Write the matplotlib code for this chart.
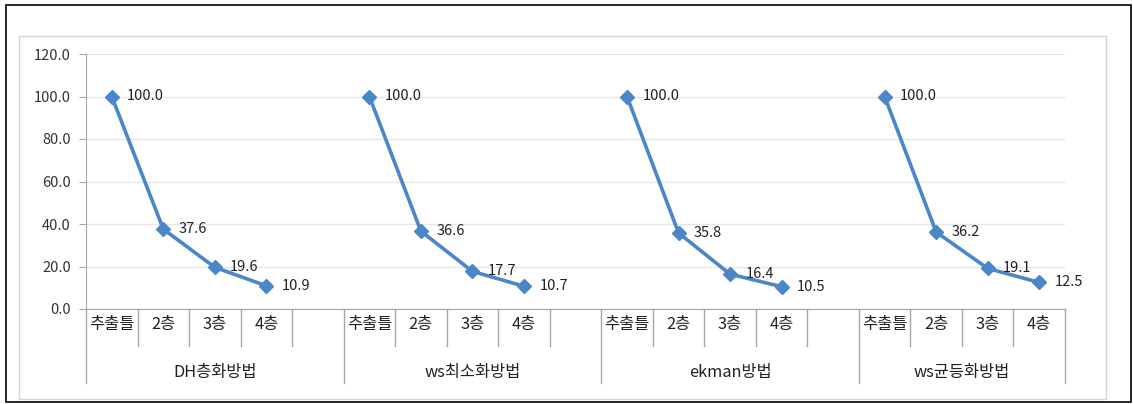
import matplotlib
matplotlib.use("Agg")
import matplotlib.pyplot as plt
from matplotlib.patches import Rectangle
import numpy as np

plt.rcParams['font.family'] = ['Noto Sans CJK KR', 'DejaVu Sans']

methods = ["DH층화방법", "ws최소화방법", "ekman방법", "ws균등화방법"]
stages = ["추출틀", "2층", "3층", "4층"]
dh_values = [100.0, 37.6, 19.6, 10.9]
wsmin_values = [100.0, 36.6, 17.7, 10.7]
ekman_values = [100.0, 35.8, 16.4, 10.5]
wseq_values = [100.0, 36.2, 19.1, 12.5]
y_ticks = [0, 20, 40, 60, 80, 100, 120]

series = [dh_values, wsmin_values, ekman_values, wseq_values]

W, H = 1133, 404
fig = plt.figure(figsize=(W / 100, H / 100), dpi=100)

def px(x0, y0, x1, y1):
    """Figure-fraction rectangle from pixel edges (top-left origin)."""
    return [x0 / W, 1 - y1 / H, (x1 - x0) / W, (y1 - y0) / H]

# outer frame and chart-area frame
fig.patches.append(Rectangle((6 / W, 1 - 402 / H), 1125 / W, 397 / H,
                             transform=fig.transFigure, fill=False,
                             edgecolor="black", linewidth=1.2))
fig.patches.append(Rectangle((19 / W, 1 - 399 / H), 1087 / W, 363 / H,
                             transform=fig.transFigure, fill=False,
                             edgecolor="#D4D4D4", linewidth=1.0))

ax = fig.add_axes(px(86, 54, 1065, 309))

slots = [5, 5, 5, 4]
starts = np.cumsum([0] + slots[:-1])
total = sum(slots)

num_size = 10.5
kor_size = 11.8

line_color = "#4A86C8"
for g, vals in enumerate(series):
    xs = starts[g] + np.arange(len(vals)) + 0.5
    ax.plot(xs, vals, color=line_color, linewidth=2.6, marker="D",
            markersize=7.5, markeredgecolor=line_color, zorder=3)
    for x, v in zip(xs, vals):
        ax.annotate(f"{v:.1f}", (x, v), xytext=(11, 0), textcoords="offset points",
                    ha="left", va="center", fontsize=num_size, color="#222222", zorder=4)

ax.set_xlim(0, total)
ax.set_ylim(0, 120)
ax.set_yticks(y_ticks)
ax.set_yticklabels([f"{t:.1f}" for t in y_ticks], fontsize=num_size, color="#333333")
ax.tick_params(axis="y", length=5, color="#A6A6A6", pad=6)
ax.set_xticks([])
ax.grid(axis="y", color="#E6E6E6", linewidth=1.0, zorder=0)
ax.set_axisbelow(True)
for side in ["top", "right"]:
    ax.spines[side].set_visible(False)
ax.spines["left"].set_color("#A6A6A6")
ax.spines["bottom"].set_color("#A6A6A6")

# two-level category axis drawn below the plot
trans = ax.get_xaxis_transform()
axes_h = 255.0
def ybelow(p):
    return -p / axes_h

for g in range(len(methods)):
    s = starts[g]
    n = slots[g]
    # group boundaries (full height)
    for xb in ([s] if g < len(methods) - 1 else [s, s + n]):
        ax.plot([xb, xb], [0, ybelow(74)], transform=trans, color="#A6A6A6",
                linewidth=1.0, clip_on=False)
    # inner slot boundaries
    for k in range(1, n):
        ax.plot([s + k, s + k], [0, ybelow(37)], transform=trans, color="#A6A6A6",
                linewidth=1.0, clip_on=False)
    for k, lab in enumerate(stages):
        ax.text(s + k + 0.5, ybelow(15), lab, transform=trans, ha="center",
                va="center", fontsize=kor_size, color="#222222")
    ax.text(s + n / 2 if g == len(methods) - 1 else s + 2.5, ybelow(63), methods[g],
            transform=trans, ha="center", va="center", fontsize=kor_size, color="#222222")

fig.savefig("out.png", dpi=100)
